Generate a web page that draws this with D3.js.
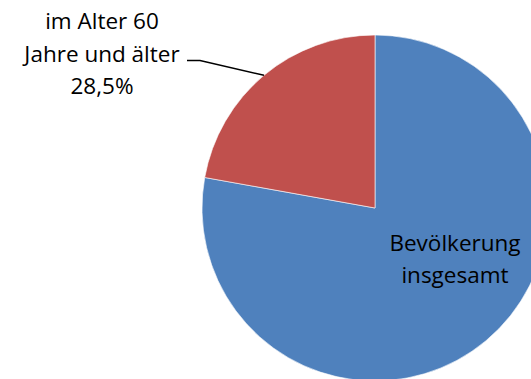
<!DOCTYPE html>
<html><head><meta charset="utf-8">
<script src="https://cdn.jsdelivr.net/npm/d3@7"></script>
<style>body{margin:0;background:#fff}svg{display:block}</style>
</head><body>
<svg id="c" width="531" height="379"></svg>
<script>
const categories = ["Bevölkerung insgesamt", "im Alter 60 Jahre und älter"];
const values = [100, 28.5];
const labels = [["Bevölkerung", "insgesamt"], ["im Alter 60", "Jahre und älter", "28,5%"]];
const colors = ["#4F81BD", "#C0504D"];

const svg = d3.select("#c");
const cx = 375, cy = 208, r = 173;
const g = svg.append("g").attr("transform", `translate(${cx},${cy})`);
const pie = d3.pie().sort(null).value(d => d)(values);
const arc = d3.arc().innerRadius(0).outerRadius(r);
g.selectAll("path").data(pie).enter().append("path")
  .attr("d", arc).attr("fill", (d, i) => colors[i])
  .attr("stroke", "#fff").attr("stroke-width", 0.6);

const font = "'Open Sans', sans-serif";
const fs = 22.5;
// inside label
const t1 = svg.append("text").attr("x", 455).attr("y", 251)
  .attr("text-anchor", "middle").attr("font-family", font).attr("font-size", fs).attr("fill", "#000");
labels[0].forEach((s, i) => t1.append("tspan").attr("x", 455).attr("y", 251 + i * 32).text(s));

// outside label
const t2 = svg.append("text").attr("text-anchor", "middle").attr("font-family", font).attr("font-size", fs).attr("fill", "#000");
labels[1].forEach((s, i) => t2.append("tspan").attr("x", 102).attr("y", 29 + i * 32.5).text(s));

// leader line
const red = pie[1];
const mid = (red.startAngle + red.endAngle) / 2;
const ex = cx + r * Math.sin(mid), ey = cy - r * Math.cos(mid);
svg.append("path").attr("d", `M187,60.5L200,60.5L${ex},${ey}`)
  .attr("fill", "none").attr("stroke", "#000").attr("stroke-width", 1.5);
</script>
</body></html>
